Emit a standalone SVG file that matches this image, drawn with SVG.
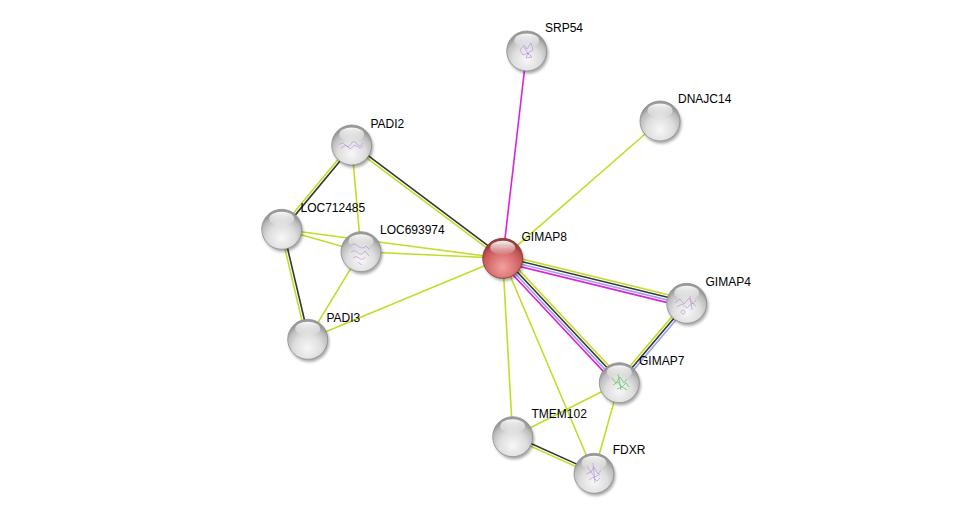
<svg xmlns="http://www.w3.org/2000/svg" width="976" height="518" viewBox="0 0 976 518">
<style>
.e{stroke-width:1.6;fill:none;stroke-linecap:round}
.t{stroke:#c3dc2a}
.k{stroke:#363636}
.m{stroke:#dd22dd}
.b{stroke:#9da3f2}
.lbl{font-family:"Liberation Sans",Arial,sans-serif;font-size:12px;fill:#000}
.ball{fill:url(#gg);stroke:#8e8e8e;stroke-width:0.8}
.red{fill:url(#gr);stroke:#8a3434;stroke-width:0.8}
.hl{fill:url(#gh)}
.sh{fill:#000;opacity:0.35;filter:url(#blur)}
.pp{fill:none;stroke:#b48ad8;stroke-width:0.7;opacity:0.9}
.pg{fill:none;stroke:#4cc04c;stroke-width:0.7;opacity:0.9}
</style>
<defs>
<radialGradient id="gg" cx="50%" cy="72%" r="62%">
<stop offset="0" stop-color="#f7f7f7"/>
<stop offset="0.55" stop-color="#dedede"/>
<stop offset="0.85" stop-color="#bdbdbd"/>
<stop offset="1" stop-color="#9a9a9a"/>
</radialGradient>
<radialGradient id="gr" cx="50%" cy="72%" r="62%">
<stop offset="0" stop-color="#f4a0a0"/>
<stop offset="0.55" stop-color="#d87070"/>
<stop offset="0.85" stop-color="#c05454"/>
<stop offset="1" stop-color="#983c3c"/>
</radialGradient>
<linearGradient id="gh" x1="0" y1="0" x2="0" y2="1">
<stop offset="0" stop-color="#fff" stop-opacity="0.95"/>
<stop offset="1" stop-color="#fff" stop-opacity="0.05"/>
</linearGradient>
<filter id="blur" x="-50%" y="-50%" width="200%" height="200%"><feGaussianBlur stdDeviation="1.6"/></filter>
<g id="ball"><circle class="sh" cx="1.5" cy="2.5" r="20"/><circle class="ball" r="20"/><ellipse class="hl" cx="0" cy="-10.5" rx="12.5" ry="7"/></g>
<g id="redball"><circle class="sh" cx="1.5" cy="2.5" r="20"/><circle class="red" r="20"/><ellipse class="hl" cx="0" cy="-10.5" rx="12.5" ry="7"/></g>
</defs>
<rect width="976" height="518" fill="#fff"/>
<g id="edges">
<line class="e m" x1="502.7" y1="258.3" x2="526.7" y2="51"/>
<line class="e t" x1="502.7" y1="258.3" x2="660" y2="121"/>
<line class="e t" x1="502.7" y1="258.3" x2="281.7" y2="229.3"/>
<line class="e t" x1="502.7" y1="258.3" x2="361" y2="251.7"/>
<line class="e t" x1="502.7" y1="258.3" x2="307.7" y2="339.3"/>
<line class="e t" x1="502.7" y1="258.3" x2="512.7" y2="436.7"/>
<line class="e t" x1="502.7" y1="258.3" x2="594" y2="473.3"/>
<line class="e t" x1="351.7" y1="145" x2="361" y2="251.7"/>
<line class="e t" x1="281.7" y1="229.3" x2="361" y2="251.7"/>
<line class="e t" x1="361" y1="251.7" x2="307.7" y2="339.3"/>
<line class="e t" x1="619.3" y1="382.7" x2="512.7" y2="436.7"/>
<line class="e t" x1="619.3" y1="382.7" x2="594" y2="473.3"/>
<line class="e k" x1="352.48" y1="143.96" x2="503.48" y2="257.26"/>
<line class="e t" x1="350.92" y1="146.04" x2="501.92" y2="259.34"/>
<line class="e k" x1="352.7" y1="145.83" x2="282.7" y2="230.13"/>
<line class="e t" x1="350.7" y1="144.17" x2="280.7" y2="228.47"/>
<line class="e k" x1="282.96" y1="229.0" x2="308.96" y2="339.0"/>
<line class="e t" x1="280.44" y1="229.6" x2="306.44" y2="339.6"/>
<line class="e k" x1="513.23" y1="435.52" x2="594.53" y2="472.12"/>
<line class="e t" x1="512.17" y1="437.88" x2="593.47" y2="474.48"/>
<line class="e t" x1="503.6" y1="254.5" x2="687.6" y2="299.5"/>
<line class="e k" x1="503.0" y1="257.0" x2="687.0" y2="302.0"/>
<line class="e b" x1="502.4" y1="259.6" x2="686.4" y2="304.6"/>
<line class="e m" x1="501.8" y1="262.1" x2="685.8" y2="307.1"/>
<line class="e t" x1="505.55" y1="255.63" x2="622.15" y2="380.03"/>
<line class="e k" x1="503.65" y1="257.41" x2="620.25" y2="381.81"/>
<line class="e b" x1="501.75" y1="259.19" x2="618.35" y2="383.59"/>
<line class="e m" x1="499.85" y1="260.97" x2="616.45" y2="385.37"/>
<line class="e t" x1="684.72" y1="301.62" x2="617.32" y2="381.02"/>
<line class="e k" x1="686.7" y1="303.3" x2="619.3" y2="382.7"/>
<line class="e b" x1="688.68" y1="304.98" x2="621.28" y2="384.38"/>
</g>
<g id="node-SRP54"><use href="#ball" x="526.7" y="51"/><path class="pp" d="M520 50 l4 -5 l3 4 l4 -6 l2 7 l-5 3 l4 4 l-6 1 l2 -5 l-5 2 z M524 47 l5 8"/><text class="lbl" x="545" y="32">SRP54</text></g>
<g id="node-DNAJC14"><use href="#ball" x="660" y="121"/><text class="lbl" x="678" y="103">DNAJC14</text></g>
<g id="node-PADI2"><use href="#ball" x="351.7" y="145"/><path class="pp" d="M339 145 q3 -4 6 0 q3 4 6 -1 q3 -5 6 0 q3 4 6 -1 M341 148 l5 -3 l4 4 l5 -4 l5 3 l3 -2"/><text class="lbl" x="370.5" y="127.5">PADI2</text></g>
<g id="node-LOC712485"><use href="#ball" x="281.7" y="229.3"/><text class="lbl" x="300.5" y="211.5">LOC712485</text></g>
<g id="node-LOC693974"><use href="#ball" x="361" y="251.7"/><path class="pp" d="M350 246 q4 -4 8 0 q4 4 8 0 l4 4 M351 252 q4 -3 7 1 q4 3 7 -2 l4 5 M353 258 q3 -3 6 0 q4 3 6 -1 M358 262 l4 3"/><text class="lbl" x="380" y="234">LOC693974</text></g>
<g id="node-GIMAP8"><use href="#redball" x="502.7" y="258.3"/><text class="lbl" x="521.5" y="240.7">GIMAP8</text></g>
<g id="node-GIMAP4"><use href="#ball" x="686.7" y="303.3"/><path class="pp" d="M675 303 l5 -4 l4 5 l5 -6 l4 6 l3 -4 M677 307 l5 -3 l5 4 l5 -5 l4 3 M683 310 a2 2 0 1 0 0.1 0 M690 296 l2 14"/><text class="lbl" x="705.5" y="285.5">GIMAP4</text></g>
<g id="node-PADI3"><use href="#ball" x="307.7" y="339.3"/><text class="lbl" x="326.5" y="322.3">PADI3</text></g>
<g id="node-GIMAP7"><use href="#ball" x="619.3" y="382.7"/><path class="pg" d="M612 378 l4 5 l4 -6 l4 6 l3 -4 M613 385 l5 -3 l4 5 l4 -4 l3 4 M617 389 l5 -2 l5 3 M618 374 l3 16"/><text class="lbl" x="639" y="365">GIMAP7</text></g>
<g id="node-TMEM102"><use href="#ball" x="512.7" y="436.7"/><text class="lbl" x="531.5" y="418.3">TMEM102</text></g>
<g id="node-FDXR"><use href="#ball" x="594" y="473.3"/><path class="pp" d="M587 466 l4 6 l3 -5 l4 7 l3 -4 M586 474 l5 -2 l4 5 l5 -3 M589 480 l4 -3 l4 4 l3 -3 M593 463 l2 20"/><text class="lbl" x="612.7" y="454.3">FDXR</text></g>
</svg>
